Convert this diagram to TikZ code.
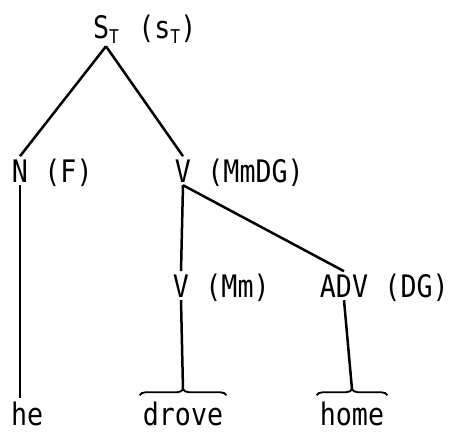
\documentclass[tikz,border=0pt]{standalone}
\usepackage{fontspec}
\newfontfamily\treefont[FakeStretch=0.86]{DejaVu Sans Mono}
\usetikzlibrary{positioning, decorations.pathreplacing}

% small lowered T for the topic index
\newcommand{\subT}{\raisebox{-0.3ex}{\fontsize{19}{19}\selectfont T}}

\begin{document}
\begin{tikzpicture}[
  x=1pt, y=1pt,
  cat/.style={font=\treefont\fontsize{31}{31}\selectfont, inner sep=3pt, anchor=base},
  note/.style={font=\treefont\fontsize{31}{31}\selectfont, inner sep=3pt},
  branch/.style={line width=2.5pt},
  hbrace/.style={decorate, decoration={brace, amplitude=6pt}, line width=1.8pt}
]
\useasboundingbox (0,0) rectangle (453,-437);

% Categories
\node[cat] (S) at (106,-38) {S\subT};
\node[cat] (N) at (20,-182) {N};
\node[cat] (V) at (183,-182) {V};
\node[cat] (Vm) at (181,-297) {V};
\node[cat] (ADV) at (344,-297) {ADV};

% Features
\node[note, base right=13pt of S] (Snote) {(s\subT)};
\node[note, base right=10pt of N] (Nnote) {(F)};
\node[note, base right=10pt of V] (Vnote) {(MmDG)};
\node[note, base right=10pt of Vm] (Vmnote) {(Mm)};
\node[note, base right=10pt of ADV] (ADVnote) {(DG)};

% Words
\node[cat, anchor=base west] (he) at (8,-425) {he};
\node[cat] (drove) at (183,-425) {drove};
\node[cat] (home) at (352,-425) {home};

% Braces over the words
\draw[hbrace] ([yshift=3pt]drove.north west) -- ([yshift=3pt]drove.north east);
\draw[hbrace] ([yshift=3pt]home.north west) -- ([yshift=3pt]home.north east);
\coordinate (drovetip) at ([yshift=9pt]drove.north);
\coordinate (hometip) at ([yshift=9pt]home.north);

% Branches
\draw[branch] (S.south) -- (N.north);
\draw[branch] (S.south) -- (V.north);
\draw[branch] (N.south) -- (N.south |- he.north);
\draw[branch] (V.south) -- (Vm.north);
\draw[branch] (V.south) -- (ADV.north);
\draw[branch] (Vm.south) -- (drovetip);
\draw[branch] (ADV.south) -- (hometip);

\end{tikzpicture}
\end{document}
